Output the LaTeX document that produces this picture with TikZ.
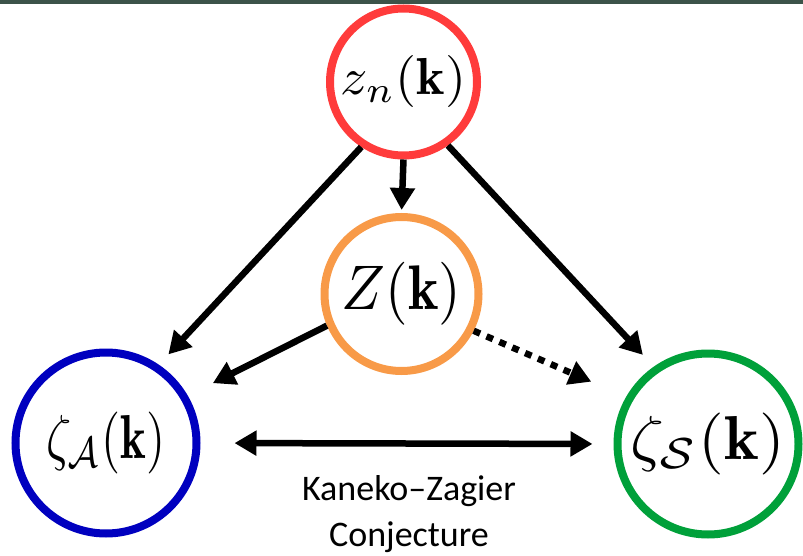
\documentclass[tikz,border=0pt]{standalone}
\usepackage{amsmath}
\usepackage{amssymb}
\usepackage{xcolor}
\usepackage{graphicx}
\usepackage{fontspec}
\newfontfamily\calibri[Ligatures=TeX]{Carlito}
\usepackage{tikz}
\usetikzlibrary{arrows.meta, positioning}

\definecolor{barcol}{HTML}{3C5349}
\definecolor{zred}{HTML}{FF3B3B}
\definecolor{zorange}{HTML}{F89A48}
\definecolor{zblue}{HTML}{0000BF}
\definecolor{zgreen}{HTML}{00A03A}

\newcommand{\bigmath}[3]{\scalebox{#1}[#2]{$#3$}}

\begin{document}
\begin{tikzpicture}[
      x=1pt, y=-1pt,
      circ/.style={circle, line width=8pt, inner sep=0pt},
      arr/.style={-{Triangle[length=22pt, width=24pt]}, line width=6.5pt},
      dotarr/.style={arr, dash pattern=on 7pt off 7pt},
      dblarr/.style={{Triangle[length=22pt, width=24pt]}-{Triangle[length=22pt, width=24pt]}, line width=6.5pt}
    ]
    \useasboundingbox (0,0) rectangle (803,556);
    \fill[barcol] (0,0) rectangle (803,4.5);

    \node[circ, draw=zred, minimum size=147pt] (zn) at (403.5,82) {\bigmath{5.4}{5.2}{z_n(\mathbf{k})}};
    \node[circ, draw=zorange, minimum size=154pt] (Z) at (401.5,294) {\bigmath{5.8}{6.3}{Z(\mathbf{k})}};
    \node[circ, draw=zblue, minimum size=181pt] (zA) at (106,443) {\bigmath{4.9}{6.2}{\zeta_{\mathcal{A}}(\mathbf{k})}};
    \node[circ, draw=zgreen, minimum size=181pt] (zS) at (708,444) {\bigmath{6.6}{6.2}{\zeta_{\mathcal{S}}(\mathbf{k})}};
    \node[align=center, font=\calibri\fontsize{36}{46}\selectfont] (kz) at (409,514) {Kaneko--Zagier\\Conjecture};

    \draw[arr, shorten >=3pt] (zn.south) -- (Z.north);
    \draw[arr, shorten >=14pt] (zn.237) -- (zA.56);
    \draw[arr, shorten >=16pt] (zn.305) -- (zS.125);
    \draw[arr, shorten >=28pt] (Z.203) -- (zA.30);
    \draw[dotarr, shorten >=38pt] (Z.333) -- (zS.150);
    \draw[dblarr, shorten <=34pt, shorten >=21pt] (zA.east) -- (zS.west);
  \end{tikzpicture}
\end{document}
